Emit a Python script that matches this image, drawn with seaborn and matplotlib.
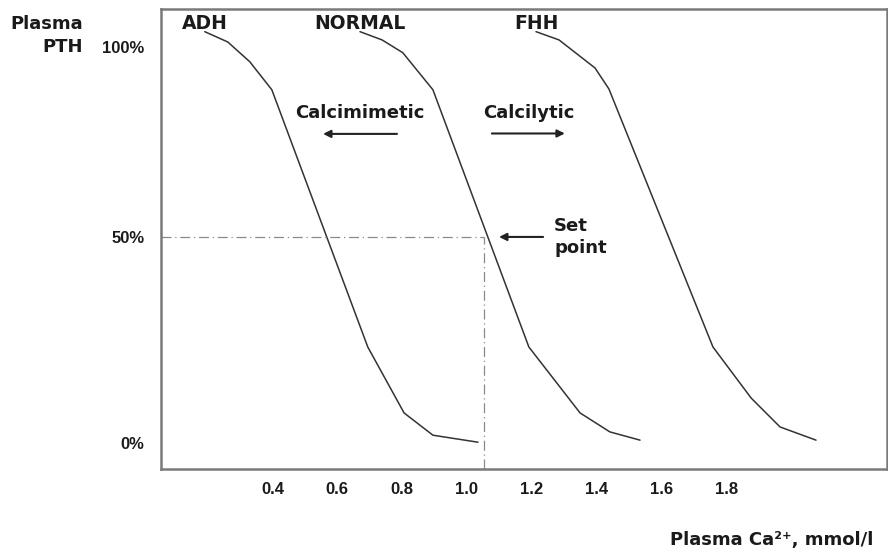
import matplotlib
matplotlib.use("Agg")
import matplotlib.pyplot as plt
import seaborn as sns
import pandas as pd

# ---- data ----
curve_names = ["ADH", "NORMAL", "FHH"]
adh_x = [0.191, 0.262, 0.330, 0.398, 0.694, 0.806, 0.895, 1.034]
adh_y = [99.8, 97.3, 92.5, 85.7, 23.3, 7.3, 1.9, 0.2]
normal_x = [0.670, 0.738, 0.802, 0.895, 1.191, 1.349, 1.441, 1.534]
normal_y = [99.8, 97.8, 94.7, 85.7, 23.3, 7.3, 2.7, 0.7]
fhh_x = [1.213, 1.284, 1.395, 1.438, 1.759, 1.877, 1.966, 2.077]
fhh_y = [99.8, 97.8, 91.0, 85.9, 23.3, 10.9, 3.9, 0.7]
set_point_x = 1.052
set_point_y = 50
x_ticks = [0.4, 0.6, 0.8, 1.0, 1.2, 1.4, 1.6, 1.8]
x_tick_labels = ["0.4", "0.6", "0.8", "1.0", "1.2", "1.4", "1.6", "1.8"]
y_tick_pos = [0, 50, 96]
y_tick_labels = ["0%", "50%", "100%"]

rows = []
for name, xs, ys in zip(curve_names, [adh_x, normal_x, fhh_x], [adh_y, normal_y, fhh_y]):
    for x, y in zip(xs, ys):
        rows.append({"curve": name, "ca": x, "pth": y})
df = pd.DataFrame(rows)

sns.set_theme(style="white")
plt.rcParams["font.family"] = ["DejaVu Sans"]

fig = plt.figure(figsize=(8.88, 5.54), dpi=100)
ax = fig.add_axes([161 / 888, 1 - 469 / 554, (887 - 161) / 888, (469 - 9) / 554])

line_col = "#333333"
sns.lineplot(data=df, x="ca", y="pth", hue="curve", units="curve", estimator=None,
             sort=False, palette={n: line_col for n in curve_names}, linewidth=1.1,
             legend=False, ax=ax)

ax.set_xlim(0.056, 2.296)
ax.set_ylim(-6.3, 105.3)

# set point guide lines
ax.plot([ax.get_xlim()[0], set_point_x], [set_point_y, set_point_y],
        color="#8a8a8a", lw=0.9, linestyle=(0, (8, 3, 1, 3)))
ax.plot([set_point_x, set_point_x], [ax.get_ylim()[0], set_point_y],
        color="#8a8a8a", lw=0.9, linestyle=(0, (8, 3, 1, 3)))

txt_col = "#1a1a1a"
lab_fs = 13
# curve labels
for name, xs in zip(curve_names, [adh_x, normal_x, fhh_x]):
    ax.text(xs[0], 101.9, name, ha="center", va="center", fontsize=lab_fs + 0.5,
            fontweight="bold", color=txt_col)

arrow_kw = dict(arrowstyle="-|>", mutation_scale=11, lw=1.5, color="#222222",
                shrinkA=0, shrinkB=0)
ax.text(0.670, 80.1, "Calcimimetic", ha="center", va="center", fontsize=lab_fs,
        fontweight="bold", color=txt_col)
ax.annotate("", xy=(0.556, 75.0), xytext=(0.784, 75.0), arrowprops=arrow_kw)
ax.text(1.190, 80.1, "Calcilytic", ha="center", va="center", fontsize=lab_fs,
        fontweight="bold", color=txt_col)
ax.annotate("", xy=(1.302, 75.1), xytext=(1.077, 75.1), arrowprops=arrow_kw)
ax.annotate("", xy=(1.099, set_point_y), xytext=(1.235, set_point_y), arrowprops=arrow_kw)
ax.text(1.269, set_point_y, "Set\npoint", ha="left", va="center", fontsize=lab_fs,
        fontweight="bold", color=txt_col, linespacing=1.3)

# ticks
ax.set_xticks(x_ticks)
ax.set_xticklabels(x_tick_labels)
ax.set_yticks(y_tick_pos)
ax.set_yticklabels(y_tick_labels)
for lbl in ax.get_xticklabels() + ax.get_yticklabels():
    lbl.set_fontfamily("Liberation Sans")
    lbl.set_fontweight("bold")
    lbl.set_fontsize(12)
    lbl.set_color(txt_col)
ax.tick_params(axis="x", length=0, pad=9)
ax.tick_params(axis="y", length=0, pad=12)
ax.set_xlabel("")
ax.set_ylabel("")

for sp in ax.spines.values():
    sp.set_visible(True)
    sp.set_color("#7a7a7a")
    sp.set_linewidth(1.8)

# axis titles
fig.text(83 / 888, 1 - 24 / 554, "Plasma", ha="right", va="center", fontsize=lab_fs,
         fontweight="bold", color=txt_col)
fig.text(83 / 888, 1 - 47 / 554, "PTH", ha="right", va="center", fontsize=lab_fs,
         fontweight="bold", color=txt_col)
fig.text(873 / 888, 1 - 540 / 554, "Plasma Ca\u00b2\u207a, mmol/l", ha="right",
         va="center", fontsize=lab_fs, fontweight="bold", color=txt_col)

fig.savefig("out.png", dpi=100)
